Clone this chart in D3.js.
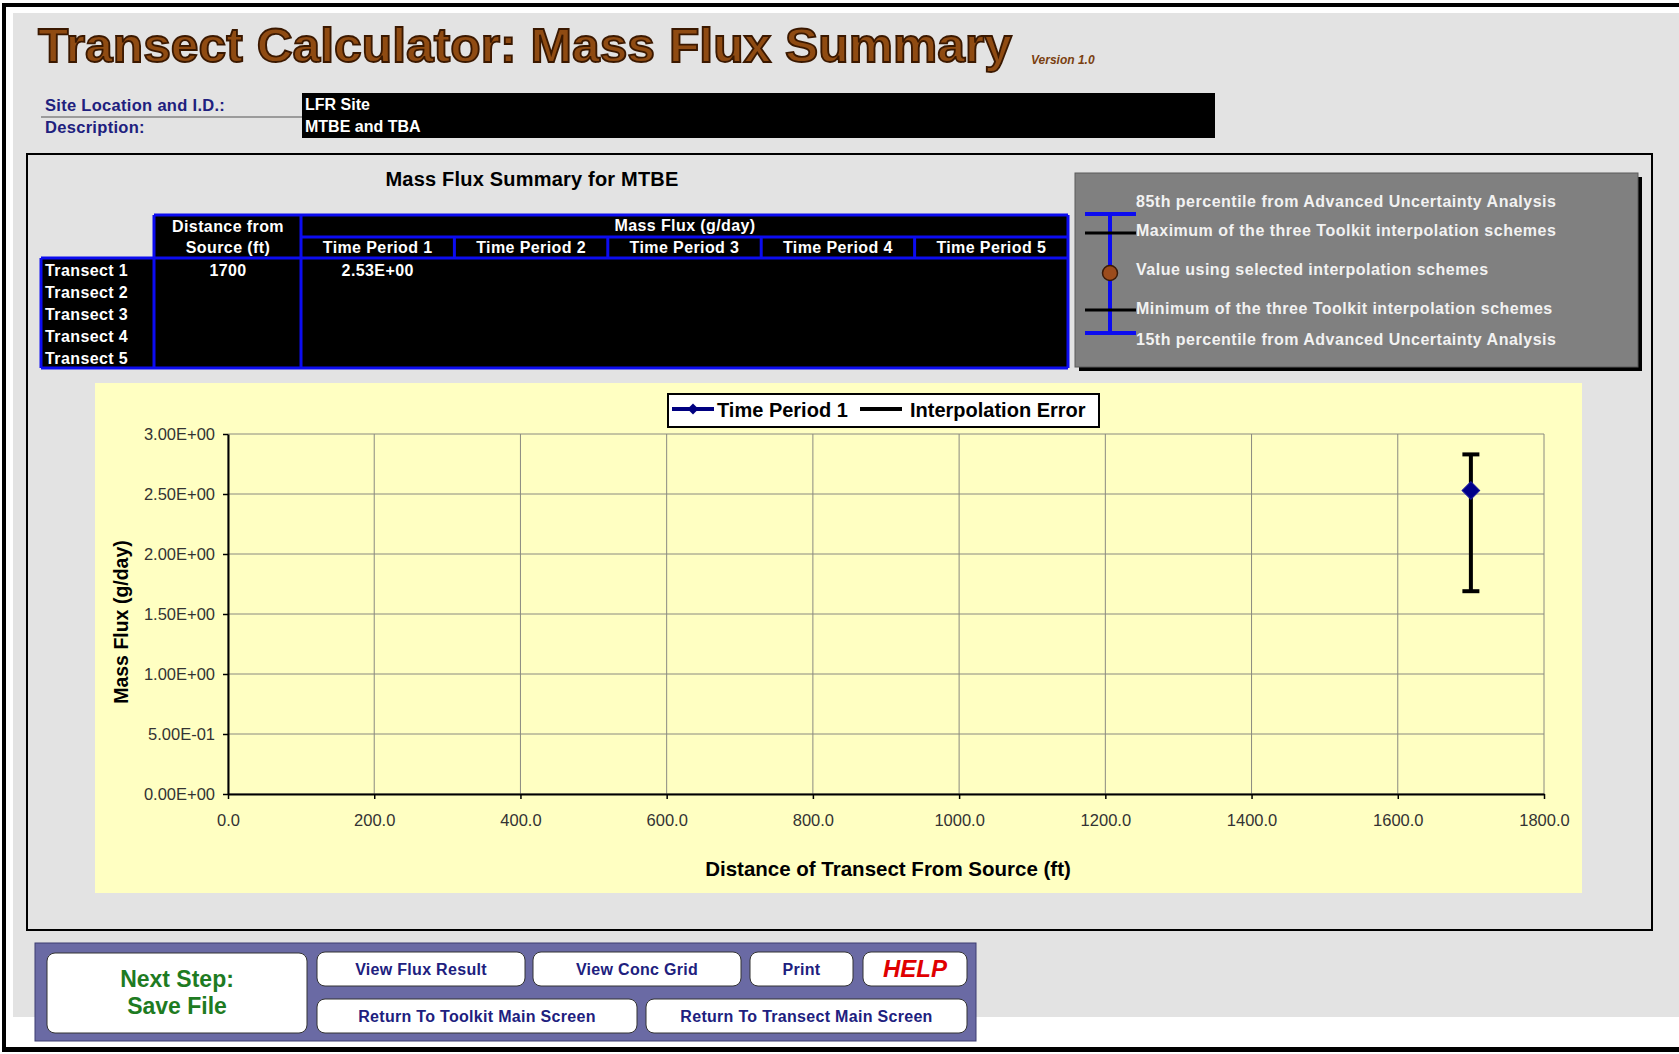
<!DOCTYPE html>
<html>
<head>
<meta charset="utf-8">
<script src="https://cdn.jsdelivr.net/npm/d3@7"></script>
<style>
  body { margin: 0; background: #fff; }
  svg { display: block; font-family: "Liberation Sans", Arial, sans-serif; }
</style>
</head>
<body>
<script>
// ---- data ----
var transects = ["Transect 1", "Transect 2", "Transect 3", "Transect 4", "Transect 5"];
var distances = [1700, null, null, null, null];
var periods = ["Time Period 1", "Time Period 2", "Time Period 3", "Time Period 4", "Time Period 5"];
var fluxTP1 = [2.53, null, null, null, null];
var errMin = [1.69, null, null, null, null];
var errMax = [2.83, null, null, null, null];
var xTicks = [0, 200, 400, 600, 800, 1000, 1200, 1400, 1600, 1800];
var yTicks = [0, 0.5, 1.0, 1.5, 2.0, 2.5, 3.0];
var keyLabels = ["85th percentile from Advanced Uncertainty Analysis",
                 "Maximum of the three Toolkit interpolation schemes",
                 "Value using selected interpolation schemes",
                 "Minimum of the three Toolkit interpolation schemes",
                 "15th percentile from Advanced Uncertainty Analysis"];
var siteInfo = ["LFR Site", "MTBE and TBA"];
var siteLabels = ["Site Location and I.D.:", "Description:"];

var W = 1679, H = 1054;
var navy = "#20207e", blue = "#0c0cf0";

function fmtE(v) {
  var p = v.toExponential(2).split("e");
  var e = parseInt(p[1]);
  var a = Math.abs(e);
  return p[0] + "E" + (e < 0 ? "-" : "+") + (a < 10 ? "0" : "") + a;
}

var svg = d3.select("body").append("svg")
    .attr("width", W)
    .attr("height", H);

// page frame
svg.append("rect").attr("x", 13).attr("y", 13).attr("width", W - 13).attr("height", 1004).attr("fill", "#e3e3e3");
svg.append("rect").attr("x", 2).attr("y", 3).attr("width", W).attr("height", 4).attr("fill", "#000");
svg.append("rect").attr("x", 2).attr("y", 3).attr("width", 4).attr("height", 1049).attr("fill", "#000");
svg.append("rect").attr("x", 2).attr("y", 1047).attr("width", W).attr("height", 5).attr("fill", "#000");

// title
svg.append("text")
    .attr("x", 38).attr("y", 62)
    .attr("textLength", 974).attr("lengthAdjust", "spacingAndGlyphs")
    .attr("font-size", 48).attr("font-weight", 900)
    .attr("fill", "#8f4b12").attr("stroke", "#3a1800").attr("stroke-width", 1.8)
    .text("Transect Calculator: Mass Flux Summary");
svg.append("text")
    .attr("x", 1031).attr("y", 64)
    .attr("font-size", 12).attr("font-weight", "bold").attr("font-style", "italic")
    .attr("fill", "#7a3f10")
    .text("Version 1.0");

// site info
svg.append("rect").attr("x", 302).attr("y", 93).attr("width", 913).attr("height", 45).attr("fill", "#000");
svg.append("line").attr("x1", 41).attr("x2", 302).attr("y1", 117).attr("y2", 117)
    .attr("stroke", "#555").attr("stroke-width", 1.2);
svg.selectAll(".siteLab").data(siteLabels).enter().append("text")
    .attr("x", 45).attr("y", function(d, i) { return 111 + i * 22; })
    .attr("font-size", 16.5).attr("font-weight", "bold").attr("letter-spacing", 0.3).attr("fill", navy)
    .text(function(d) { return d; });
svg.selectAll(".siteVal").data(siteInfo).enter().append("text")
    .attr("x", 305).attr("y", function(d, i) { return 110 + i * 22; })
    .attr("font-size", 16).attr("font-weight", "bold").attr("fill", "#fff")
    .text(function(d) { return d; });

// main panel
svg.append("rect").attr("x", 27).attr("y", 154).attr("width", 1625).attr("height", 776)
    .attr("fill", "#e3e3e3").attr("stroke", "#000").attr("stroke-width", 2);
svg.append("text").attr("x", 532).attr("y", 186)
    .attr("text-anchor", "middle").attr("font-size", 20).attr("font-weight", "bold")
    .attr("letter-spacing", 0.2)
    .text("Mass Flux Summary for MTBE");

// ---- summary table ----
var tbl = svg.append("g").attr("font-weight", "bold").attr("font-size", 16)
    .attr("letter-spacing", 0.4).attr("fill", "#fff");
var colX = d3.scaleBand().domain(periods).range([301, 1068]);
var rowY = d3.scaleBand().domain(transects).range([258, 368]);

tbl.append("rect").attr("x", 154).attr("y", 215).attr("width", 914).attr("height", 43).attr("fill", "#000");
tbl.append("rect").attr("x", 41).attr("y", 258).attr("width", 1027).attr("height", 110).attr("fill", "#000");

function bline(x1, y1, x2, y2) {
  tbl.append("line").attr("x1", x1).attr("y1", y1).attr("x2", x2).attr("y2", y2)
     .attr("stroke", blue).attr("stroke-width", 3);
}
bline(154, 215, 1068, 215);
bline(41, 258, 1068, 258);
bline(41, 368, 1068, 368);
bline(41, 258, 41, 368);
bline(154, 215, 154, 368);
bline(301, 215, 301, 368);
bline(1068, 215, 1068, 368);
bline(301, 237, 1068, 237);
periods.slice(1).forEach(function(p) { bline(colX(p), 237, colX(p), 258); });

tbl.append("text").attr("x", 228).attr("y", 232).attr("text-anchor", "middle").text("Distance from");
tbl.append("text").attr("x", 228).attr("y", 253).attr("text-anchor", "middle").text("Source (ft)");
tbl.append("text").attr("x", 685).attr("y", 231).attr("text-anchor", "middle").text("Mass Flux (g/day)");
tbl.selectAll(".tp").data(periods).enter().append("text")
    .attr("x", function(d) { return colX(d) + colX.bandwidth() / 2; })
    .attr("y", 253).attr("text-anchor", "middle")
    .text(function(d) { return d; });
tbl.selectAll(".tr").data(transects).enter().append("text")
    .attr("x", 45).attr("y", function(d) { return rowY(d) + 18; })
    .text(function(d) { return d; });
tbl.selectAll(".dist").data(distances).enter().append("text")
    .attr("x", 228).attr("y", function(d, i) { return rowY(transects[i]) + 18; })
    .attr("text-anchor", "middle")
    .text(function(d) { return d == null ? "" : d; });
tbl.selectAll(".flux").data(fluxTP1).enter().append("text")
    .attr("x", colX(periods[0]) + colX.bandwidth() / 2)
    .attr("y", function(d, i) { return rowY(transects[i]) + 18; })
    .attr("text-anchor", "middle")
    .text(function(d) { return d == null ? "" : fmtE(d); });

// ---- error bar key ----
var key = svg.append("g");
key.append("rect").attr("x", 1079).attr("y", 177).attr("width", 563).attr("height", 194).attr("fill", "#000");
key.append("rect").attr("x", 1075).attr("y", 173).attr("width", 563).attr("height", 194)
    .attr("fill", "#808080").attr("stroke", "#5a5a5a").attr("stroke-width", 1);
var keyY = [207, 236, 275, 314, 345];
key.selectAll(".kl").data(keyLabels).enter().append("text")
    .attr("x", 1136).attr("y", function(d, i) { return keyY[i]; })
    .attr("font-size", 16).attr("font-weight", "bold").attr("letter-spacing", 0.5)
    .attr("fill", "#f2f2f2")
    .text(function(d) { return d; });
key.append("line").attr("x1", 1110).attr("x2", 1110).attr("y1", 214).attr("y2", 333)
    .attr("stroke", blue).attr("stroke-width", 4);
[214, 333].forEach(function(y) {
  key.append("line").attr("x1", 1085).attr("x2", 1136).attr("y1", y).attr("y2", y)
      .attr("stroke", blue).attr("stroke-width", 4);
});
[233, 310].forEach(function(y) {
  key.append("line").attr("x1", 1085).attr("x2", 1136).attr("y1", y).attr("y2", y)
      .attr("stroke", "#000").attr("stroke-width", 3);
});
key.append("circle").attr("cx", 1110).attr("cy", 273).attr("r", 7.5)
    .attr("fill", "#9c4c1c").attr("stroke", "#3a1a08").attr("stroke-width", 1.5);

// ---- chart ----
svg.append("rect").attr("x", 95).attr("y", 383).attr("width", 1487).attr("height", 510).attr("fill", "#ffffc2");

var x = d3.scaleLinear().domain([0, 1800]).range([228, 1544]);
var y = d3.scaleLinear().domain([0, 3]).range([794, 434]);

var grid = svg.append("g").attr("stroke", "#8a8a80").attr("stroke-width", 1);
grid.selectAll(".gx").data(xTicks).enter().append("line")
    .attr("x1", function(d) { return x(d); }).attr("x2", function(d) { return x(d); })
    .attr("y1", y(3)).attr("y2", y(0));
grid.selectAll(".gy").data(yTicks).enter().append("line")
    .attr("x1", x(0)).attr("x2", x(1800))
    .attr("y1", function(d) { return y(d); }).attr("y2", function(d) { return y(d); });

var xAxis = svg.append("g").attr("transform", "translate(0," + y(0) + ")")
    .call(d3.axisBottom(x).tickValues(xTicks).tickFormat(d3.format(".1f"))
          .tickSize(5).tickSizeOuter(0).tickPadding(15));
var yAxis = svg.append("g").attr("transform", "translate(" + x(0) + ",0)")
    .call(d3.axisLeft(y).tickValues(yTicks).tickFormat(fmtE)
          .tickSize(5).tickSizeOuter(0).tickPadding(8));
[xAxis, yAxis].forEach(function(a) {
  a.select(".domain").attr("stroke", "#000").attr("stroke-width", 2);
  a.selectAll(".tick line").attr("stroke", "#000").attr("stroke-width", 1.5);
  a.selectAll(".tick text").attr("font-size", 16.5).attr("fill", "#333")
      .attr("font-family", "\"Liberation Sans\", Arial, sans-serif");
});

svg.append("text")
    .attr("transform", "translate(121,622) rotate(-90)")
    .attr("text-anchor", "middle").attr("dy", "0.35em")
    .attr("font-size", 19.5).attr("font-weight", "bold")
    .text("Mass Flux (g/day)");
svg.append("text")
    .attr("x", 888).attr("y", 876).attr("text-anchor", "middle")
    .attr("font-size", 20.5).attr("font-weight", "bold")
    .text("Distance of Transect From Source (ft)");

// error bars
var pts = distances.map(function(d, i) {
  return { x: d, v: fluxTP1[i], lo: errMin[i], hi: errMax[i] };
}).filter(function(d) { return d.x != null && d.v != null; });

var eb = svg.append("g").attr("stroke", "#000").attr("stroke-width", 4);
eb.selectAll(".eline").data(pts).enter().append("line")
    .attr("x1", function(d) { return x(d.x); }).attr("x2", function(d) { return x(d.x); })
    .attr("y1", function(d) { return y(d.hi); }).attr("y2", function(d) { return y(d.lo); });
eb.selectAll(".capHi").data(pts).enter().append("line")
    .attr("x1", function(d) { return x(d.x) - 8.5; }).attr("x2", function(d) { return x(d.x) + 8.5; })
    .attr("y1", function(d) { return y(d.hi); }).attr("y2", function(d) { return y(d.hi); });
eb.selectAll(".capLo").data(pts).enter().append("line")
    .attr("x1", function(d) { return x(d.x) - 8.5; }).attr("x2", function(d) { return x(d.x) + 8.5; })
    .attr("y1", function(d) { return y(d.lo); }).attr("y2", function(d) { return y(d.lo); });

// series line + diamond markers
svg.append("path").datum(pts)
    .attr("fill", "none").attr("stroke", "#000080").attr("stroke-width", 4)
    .attr("d", d3.line().x(function(d) { return x(d.x); }).y(function(d) { return y(d.v); }));
svg.selectAll(".mk").data(pts).enter().append("path")
    .attr("transform", function(d) { return "translate(" + x(d.x) + "," + y(d.v) + ") rotate(45)"; })
    .attr("d", d3.symbol(d3.symbolSquare, 155))
    .attr("fill", "#00008a").attr("stroke", "#1a1aa0").attr("stroke-width", 1);

// chart legend
var lg = svg.append("g");
lg.append("rect").attr("x", 668).attr("y", 394).attr("width", 431).attr("height", 33)
    .attr("fill", "#fff").attr("stroke", "#000").attr("stroke-width", 2);
lg.append("line").attr("x1", 672).attr("x2", 714).attr("y1", 409).attr("y2", 409)
    .attr("stroke", "#000080").attr("stroke-width", 4);
lg.append("path").attr("transform", "translate(693,409) rotate(45)")
    .attr("d", d3.symbol(d3.symbolSquare, 60)).attr("fill", "#000080");
lg.append("text").attr("x", 717).attr("y", 417).attr("font-size", 20).attr("font-weight", "bold")
    .text("Time Period 1");
lg.append("line").attr("x1", 860).attr("x2", 902).attr("y1", 409).attr("y2", 409)
    .attr("stroke", "#000").attr("stroke-width", 4);
lg.append("text").attr("x", 910).attr("y", 417).attr("font-size", 20).attr("font-weight", "bold")
    .text("Interpolation Error");

// ---- buttons ----
var buttons = [
  { label: "View Flux Result", x: 317, y: 952, w: 208, h: 34 },
  { label: "View Conc Grid", x: 533, y: 952, w: 208, h: 34 },
  { label: "Print", x: 750, y: 952, w: 103, h: 34 },
  { label: "HELP", x: 863, y: 952, w: 104, h: 34 },
  { label: "Return To Toolkit Main Screen", x: 317, y: 999, w: 320, h: 34 },
  { label: "Return To Transect Main Screen", x: 646, y: 999, w: 321, h: 34 }
];
var bp = svg.append("g");
bp.append("rect").attr("x", 35).attr("y", 943).attr("width", 941).attr("height", 98)
    .attr("fill", "#6a6aa4").attr("stroke", "#3c3c70").attr("stroke-width", 1);
bp.append("rect").attr("x", 47).attr("y", 953).attr("width", 260).attr("height", 80).attr("rx", 8)
    .attr("fill", "#fff").attr("stroke", "#333").attr("stroke-width", 1);
bp.append("text").attr("x", 177).attr("y", 987).attr("text-anchor", "middle")
    .attr("font-size", 23).attr("font-weight", "bold").attr("fill", "#1e7b22").text("Next Step:");
bp.append("text").attr("x", 177).attr("y", 1014).attr("text-anchor", "middle")
    .attr("font-size", 23).attr("font-weight", "bold").attr("fill", "#1e7b22").text("Save File");
var btn = bp.selectAll(".btn").data(buttons).enter().append("g");
btn.append("rect")
    .attr("x", function(d) { return d.x; }).attr("y", function(d) { return d.y; })
    .attr("width", function(d) { return d.w; }).attr("height", function(d) { return d.h; })
    .attr("rx", 8).attr("fill", "#fff").attr("stroke", "#333").attr("stroke-width", 1);
btn.append("text")
    .attr("x", function(d) { return d.x + d.w / 2; })
    .attr("y", function(d) { return d.label == "HELP" ? d.y + 25 : d.y + 23; })
    .attr("text-anchor", "middle")
    .attr("font-weight", "bold")
    .attr("font-size", function(d) { return d.label == "HELP" ? 24 : 16; })
    .attr("font-style", function(d) { return d.label == "HELP" ? "italic" : "normal"; })
    .attr("letter-spacing", function(d) { return d.label == "HELP" ? 0 : 0.3; })
    .attr("fill", function(d) { return d.label == "HELP" ? "#e00000" : navy; })
    .text(function(d) { return d.label; });
</script>
</body>
</html>
